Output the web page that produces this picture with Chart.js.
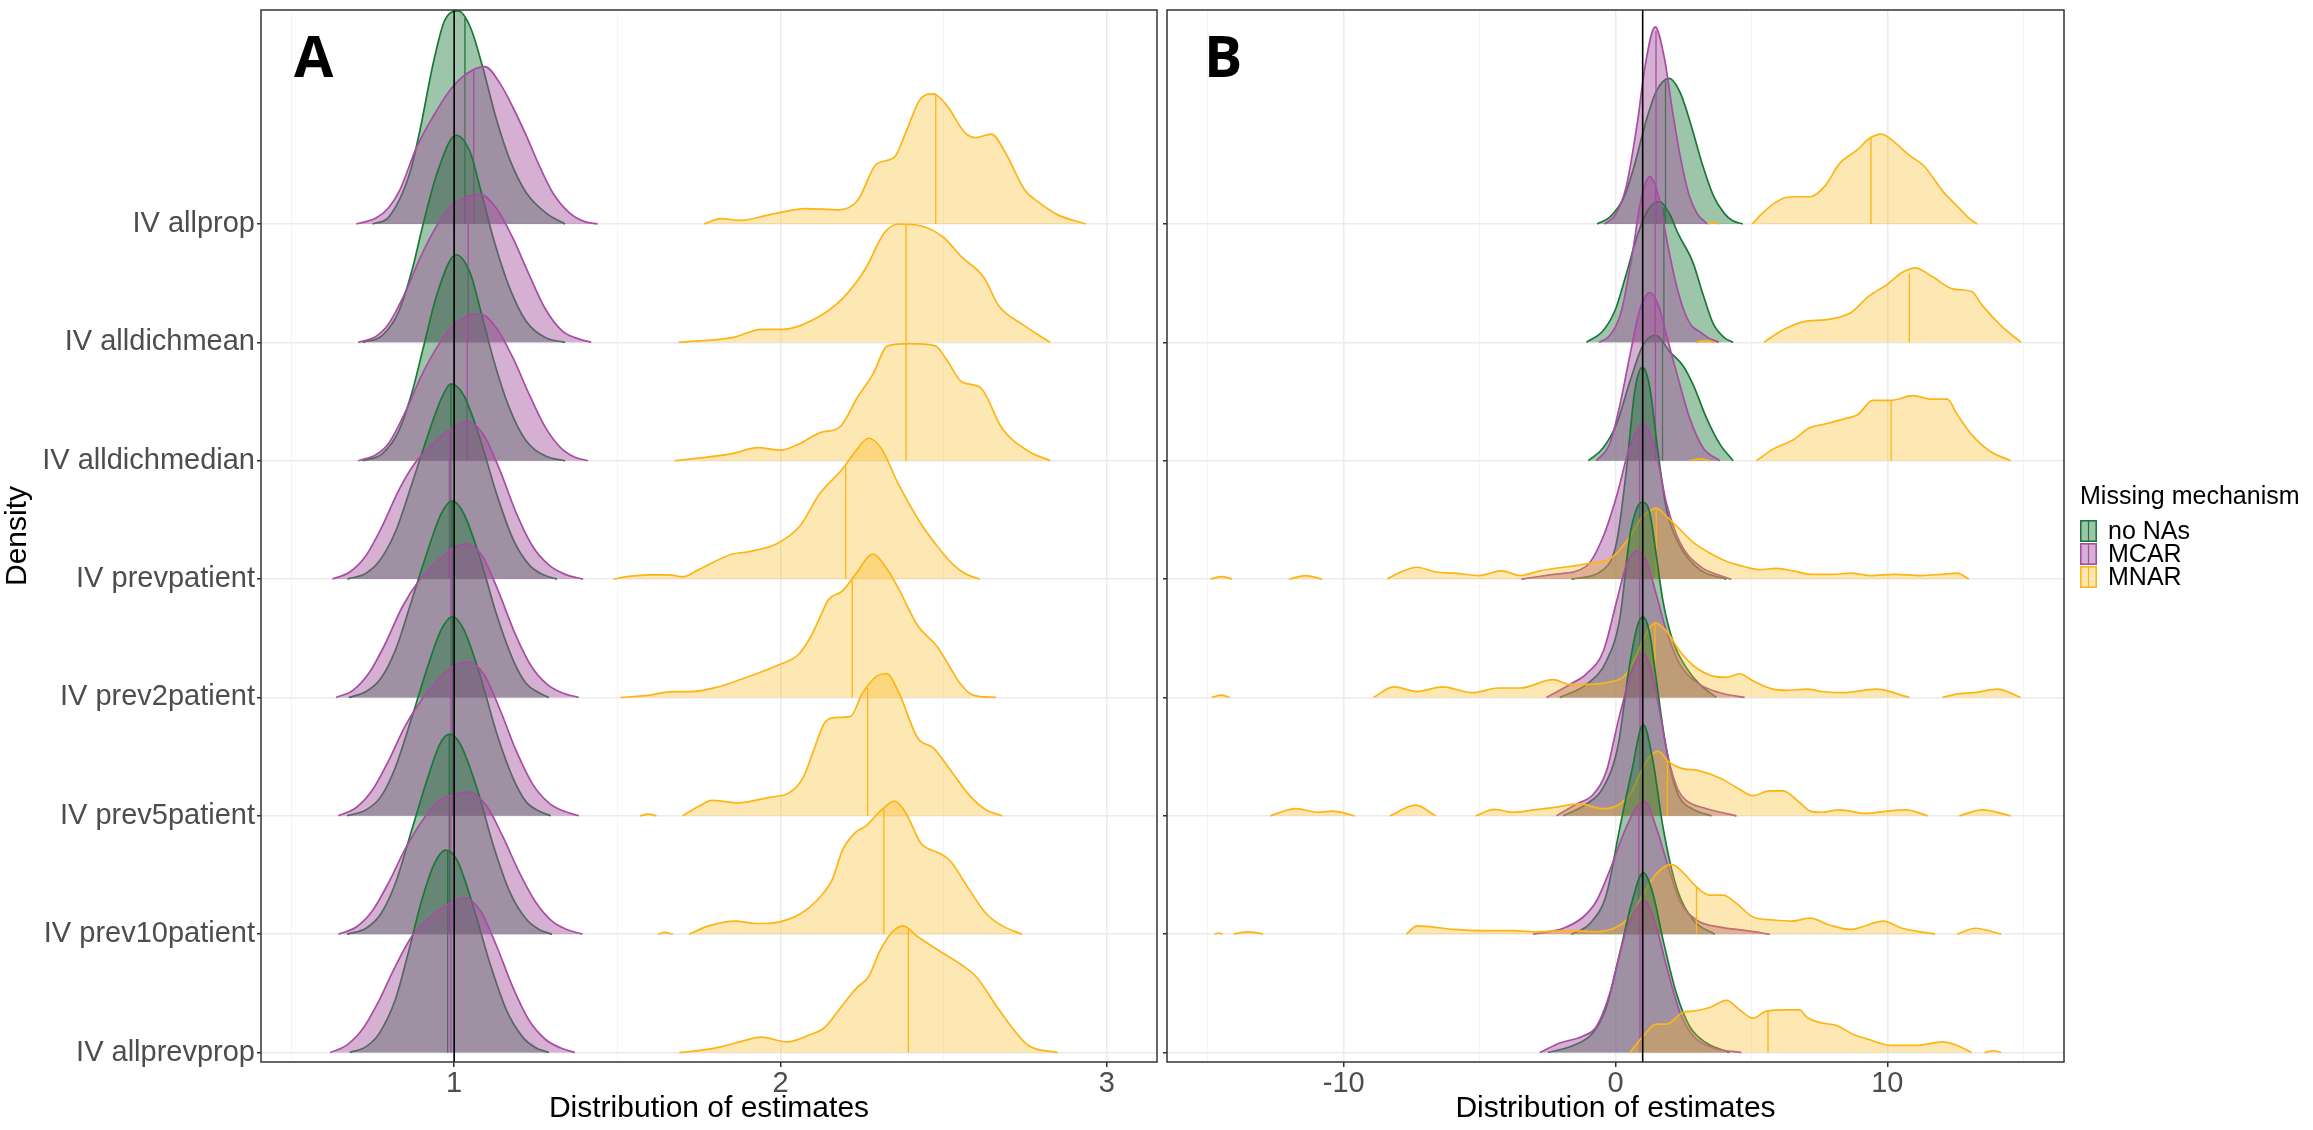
<!DOCTYPE html>
<html>
<head>
<meta charset="utf-8">
<script src="https://cdn.jsdelivr.net/npm/chart.js@4.4.1/dist/chart.umd.min.js"></script>
<style>
html, body { margin: 0; padding: 0; background: #fff; }
#wrapA { position: absolute; left: 0; top: 0; width: 1160px; height: 1130px; }
#wrapB { position: absolute; left: 1160px; top: 0; width: 1153px; height: 1130px; }
</style>
</head>
<body>
<div id="wrapA"><canvas id="chartA"></canvas></div>
<div id="wrapB"><canvas id="chartB"></canvas></div>
<script>
// rows, top to bottom
const methods = ['IV allprop', 'IV alldichmean', 'IV alldichmedian', 'IV prevpatient',
                 'IV prev2patient', 'IV prev5patient', 'IV prev10patient', 'IV allprevprop'];
const mechanisms = ['no NAs', 'MCAR', 'MNAR'];
const legendTitle = 'Missing mechanism';
const xTitle = 'Distribution of estimates';
const yTitle = 'Density';
const trueValue = 1;

const xTicksA = [0.5, 1, 1.5, 2, 2.5, 3];
const xLabelsA = ['', '1', '', '2', '', '3'];
const xTicksB = [-15, -10, -5, 0, 5, 10, 15];
const xLabelsB = ['', '-10', '', '0', '', '10', ''];

// density curves: [estimate, height above the row baseline]
// a null height breaks the curve
const estA_noNA = [
  [[0.75,0],[0.80,0.06],[0.864,0.43],[0.895,0.79],[0.936,1.36],[0.971,1.72],[1.012,1.80],[1.05,1.66],[1.084,1.36],[1.13,0.88],[1.171,0.54],[1.222,0.26],[1.283,0.09],[1.34,0]],
  [[0.72,0],[0.78,0.06],[0.83,0.26],[0.87,0.60],[0.905,1.0],[0.95,1.45],[1.006,1.75],[1.05,1.60],[1.08,1.30],[1.12,0.88],[1.17,0.46],[1.22,0.18],[1.28,0.04],[1.34,0]],
  [[0.72,0],[0.78,0.06],[0.83,0.25],[0.87,0.57],[0.905,0.95],[0.95,1.43],[1.006,1.74],[1.05,1.58],[1.08,1.28],[1.12,0.86],[1.17,0.44],[1.22,0.17],[1.28,0.04],[1.34,0]],
  [[0.673,0],[0.73,0.05],[0.77,0.15],[0.82,0.40],[0.87,0.80],[0.92,1.22],[0.96,1.52],[0.99,1.65],[1.03,1.55],[1.08,1.18],[1.13,0.72],[1.18,0.34],[1.23,0.12],[1.27,0.04],[1.315,0]],
  [[0.677,0],[0.73,0.05],[0.775,0.16],[0.82,0.40],[0.87,0.82],[0.92,1.25],[0.96,1.55],[0.994,1.66],[1.03,1.55],[1.08,1.17],[1.13,0.70],[1.18,0.32],[1.22,0.12],[1.26,0.04],[1.29,0]],
  [[0.672,0],[0.73,0.05],[0.775,0.16],[0.82,0.41],[0.87,0.83],[0.92,1.27],[0.96,1.57],[0.995,1.68],[1.03,1.57],[1.08,1.18],[1.13,0.70],[1.18,0.32],[1.22,0.12],[1.26,0.04],[1.296,0]],
  [[0.672,0],[0.73,0.05],[0.775,0.17],[0.82,0.43],[0.87,0.88],[0.92,1.33],[0.955,1.60],[0.985,1.69],[1.02,1.60],[1.07,1.23],[1.12,0.75],[1.17,0.36],[1.22,0.13],[1.26,0.04],[1.30,0]],
  [[0.68,0],[0.73,0.05],[0.77,0.16],[0.82,0.45],[0.86,0.85],[0.90,1.28],[0.94,1.60],[0.974,1.71],[1.01,1.62],[1.06,1.22],[1.11,0.75],[1.16,0.36],[1.21,0.13],[1.25,0.04],[1.29,0]]
];
const estA_MCAR = [
  [[0.70,0],[0.76,0.05],[0.80,0.14],[0.834,0.29],[0.885,0.65],[0.936,0.91],[0.987,1.13],[1.038,1.27],[1.094,1.33],[1.14,1.19],[1.181,0.98],[1.222,0.74],[1.263,0.48],[1.303,0.26],[1.355,0.09],[1.40,0.02],[1.44,0]],
  [[0.706,0],[0.76,0.05],[0.80,0.16],[0.85,0.42],[0.90,0.74],[0.95,1.0],[0.99,1.15],[1.04,1.23],[1.08,1.25],[1.13,1.13],[1.18,0.88],[1.23,0.57],[1.28,0.28],[1.33,0.10],[1.37,0.04],[1.42,0]],
  [[0.706,0],[0.76,0.05],[0.80,0.15],[0.85,0.41],[0.90,0.72],[0.95,0.97],[0.99,1.12],[1.04,1.22],[1.08,1.24],[1.13,1.12],[1.18,0.87],[1.23,0.56],[1.28,0.28],[1.33,0.10],[1.37,0.03],[1.41,0]],
  [[0.627,0],[0.68,0.06],[0.73,0.20],[0.78,0.45],[0.83,0.75],[0.88,0.98],[0.93,1.13],[0.98,1.25],[1.04,1.33],[1.09,1.22],[1.14,0.92],[1.19,0.56],[1.24,0.28],[1.29,0.12],[1.34,0.04],[1.395,0]],
  [[0.638,0],[0.69,0.06],[0.74,0.21],[0.79,0.46],[0.84,0.76],[0.89,0.98],[0.94,1.13],[0.985,1.24],[1.035,1.30],[1.085,1.20],[1.135,0.90],[1.185,0.55],[1.235,0.27],[1.285,0.11],[1.33,0.04],[1.382,0]],
  [[0.645,0],[0.70,0.07],[0.75,0.22],[0.80,0.47],[0.85,0.76],[0.90,0.98],[0.945,1.13],[0.99,1.25],[1.04,1.30],[1.09,1.20],[1.14,0.90],[1.19,0.55],[1.24,0.27],[1.29,0.11],[1.335,0.04],[1.382,0]],
  [[0.645,0],[0.70,0.06],[0.75,0.20],[0.80,0.44],[0.85,0.72],[0.90,0.95],[0.95,1.12],[0.99,1.17],[1.046,1.20],[1.10,1.08],[1.15,0.82],[1.20,0.52],[1.25,0.27],[1.30,0.11],[1.345,0.04],[1.393,0]],
  [[0.62,0],[0.67,0.06],[0.72,0.20],[0.77,0.44],[0.82,0.73],[0.87,0.98],[0.92,1.13],[0.975,1.24],[1.03,1.31],[1.08,1.20],[1.13,0.90],[1.18,0.55],[1.23,0.27],[1.28,0.11],[1.325,0.04],[1.37,0]]
];
const estA_MNAR = [
  [[1.766,0],[1.818,0.046],[1.875,0.03],[1.965,0.077],[2.078,0.13],[2.18,0.12],[2.237,0.2],[2.294,0.506],[2.35,0.567],[2.385,0.78],[2.43,1.06],[2.469,1.10],[2.51,1.0],[2.566,0.77],[2.60,0.73],[2.646,0.76],[2.69,0.6],[2.748,0.29],[2.793,0.18],[2.85,0.077],[2.936,0]],
  [[1.688,0],[1.852,0.04],[1.943,0.11],[2.01,0.11],[2.10,0.19],[2.19,0.37],[2.26,0.62],[2.317,0.92],[2.362,1.0],[2.43,0.985],[2.498,0.89],[2.556,0.72],[2.623,0.55],[2.669,0.31],[2.737,0.16],[2.827,0]],
  [[1.675,0],[1.852,0.06],[1.931,0.11],[1.999,0.09],[2.056,0.14],[2.124,0.24],[2.18,0.28],[2.237,0.54],[2.283,0.73],[2.328,0.97],[2.396,0.99],[2.475,0.97],[2.51,0.85],[2.556,0.665],[2.612,0.62],[2.68,0.27],[2.76,0.08],[2.827,0]],
  [[1.489,0],[1.53,0.02],[1.60,0.036],[1.66,0.035],[1.70,0.02],[1.75,0.08],[1.85,0.21],[1.90,0.23],[1.99,0.30],[2.06,0.45],[2.12,0.72],[2.19,0.93],[2.23,1.08],[2.27,1.19],[2.31,1.10],[2.36,0.81],[2.43,0.47],[2.48,0.28],[2.53,0.12],[2.57,0.04],[2.61,0]],
  [[1.51,0],[1.60,0.02],[1.67,0.05],[1.73,0.05],[1.81,0.09],[1.875,0.15],[1.99,0.27],[2.056,0.365],[2.09,0.5],[2.12,0.67],[2.147,0.825],[2.19,0.9],[2.23,1.04],[2.283,1.21],[2.33,1.07],[2.36,0.93],[2.42,0.61],[2.48,0.43],[2.51,0.30],[2.55,0.12],[2.59,0.02],[2.66,0]],
  [[1.57,0],[1.595,0.015],[1.62,0],[1.66,null],[1.70,0],[1.75,0.08],[1.79,0.13],[1.87,0.11],[1.965,0.156],[2.03,0.2],[2.07,0.325],[2.10,0.54],[2.135,0.785],[2.17,0.83],[2.215,0.84],[2.25,1.03],[2.295,1.18],[2.325,1.2],[2.36,1.06],[2.42,0.66],[2.47,0.57],[2.52,0.39],[2.58,0.17],[2.63,0.05],[2.68,0]],
  [[1.625,0],[1.645,0.015],[1.67,0],[1.695,null],[1.72,0],[1.78,0.07],[1.86,0.11],[1.93,0.09],[1.99,0.10],[2.06,0.17],[2.11,0.28],[2.16,0.47],[2.19,0.71],[2.23,0.86],[2.26,0.91],[2.31,1.05],[2.35,1.125],[2.385,1.02],[2.43,0.77],[2.49,0.68],[2.52,0.62],[2.58,0.37],[2.63,0.175],[2.68,0.07],[2.74,0]],
  [[1.69,0],[1.76,0.02],[1.82,0.05],[1.875,0.09],[1.94,0.13],[2.02,0.09],[2.09,0.15],[2.135,0.21],[2.19,0.40],[2.235,0.55],[2.27,0.64],[2.305,0.86],[2.34,1.01],[2.375,1.07],[2.42,0.98],[2.486,0.86],[2.55,0.75],[2.60,0.64],[2.66,0.40],[2.71,0.21],[2.76,0.06],[2.85,0]]
];
// medians: [estimate, height]
const medA_noNA = [[1.033,1.74],[1.0,1.72],[1.0,1.71],[0.99,1.65],[0.994,1.66],[0.995,1.68],[0.985,1.69],[0.98,1.71]];
const medA_MCAR = [[1.06,1.30],[1.043,1.23],[1.04,1.22],[0.985,1.24],[0.99,1.25],[0.99,1.25],[0.99,1.17],[0.99,1.25]];
const medA_MNAR = [[2.476,1.09],[2.385,1.0],[2.385,0.99],[2.2,0.95],[2.22,0.99],[2.267,1.08],[2.317,1.06],[2.392,1.04]];

const estB_noNA = [
  [[-0.68,0],[-0.2,0.06],[0.3,0.22],[0.7,0.50],[1.1,0.85],[1.5,1.12],[1.97,1.23],[2.4,1.10],[2.8,0.82],[3.2,0.50],[3.6,0.24],[4.0,0.09],[4.3,0.03],[4.68,0]],
  [[-1.07,0],[-0.45,0.1],[0.0,0.28],[0.4,0.58],[0.8,0.90],[1.2,1.12],[1.62,1.19],[2.0,1.08],[2.3,0.92],[2.84,0.68],[3.2,0.42],[3.59,0.16],[4.0,0.04],[4.33,0]],
  [[-1.0,0],[-0.45,0.11],[0.04,0.31],[0.53,0.67],[1.02,0.98],[1.48,1.06],[2.0,0.92],[2.49,0.80],[2.86,0.64],[3.35,0.36],[3.84,0.14],[4.33,0]],
  [[-1.62,0],[-0.45,0.08],[0.04,0.31],[0.4,0.92],[0.71,1.59],[0.99,1.79],[1.26,1.62],[1.57,1.06],[1.875,0.59],[2.37,0.28],[3.1,0.08],[4.08,0]],
  [[-2.05,0],[-1.07,0.11],[-0.33,0.31],[0.16,0.67],[0.53,1.37],[0.77,1.59],[0.99,1.65],[1.26,1.56],[1.5,1.2],[1.75,0.81],[2.12,0.47],[2.61,0.25],[3.1,0.11],[3.71,0]],
  [[-1.92,0],[-1.07,0.1],[-0.45,0.24],[0.1,0.6],[0.5,1.25],[0.8,1.6],[1.0,1.68],[1.25,1.55],[1.5,1.15],[1.8,0.66],[2.1,0.32],[2.37,0.15],[2.9,0.05],[3.53,0]],
  [[-1.62,0],[-0.94,0.09],[-0.33,0.34],[0.16,0.9],[0.59,1.37],[1.02,1.77],[1.38,1.46],[1.75,0.9],[2.24,0.4],[2.86,0.12],[3.65,0]],
  [[-2.48,0],[-1.56,0.06],[-0.82,0.17],[-0.33,0.39],[0.16,0.84],[0.59,1.26],[1.02,1.52],[1.38,1.34],[1.75,0.95],[2.24,0.5],[2.73,0.22],[3.35,0.08],[4.2,0]]
];
const estB_MCAR = [
  [[-0.4,0],[0.0,0.08],[0.4,0.32],[0.8,0.85],[1.1,1.35],[1.46,1.666],[1.8,1.40],[2.1,0.95],[2.4,0.55],[2.7,0.25],[3.0,0.09],[3.38,0]],
  [[-0.6,0],[-0.2,0.06],[0.2,0.25],[0.6,0.72],[0.95,1.22],[1.27,1.40],[1.6,1.22],[1.9,0.85],[2.2,0.52],[2.5,0.28],[2.8,0.14],[3.1,0.09],[3.4,0.04],[3.8,0]],
  [[-0.7,0],[-0.2,0.15],[0.16,0.47],[0.53,0.89],[0.9,1.28],[1.27,1.42],[1.6,1.30],[1.875,1.06],[2.24,0.75],[2.73,0.36],[3.22,0.11],[3.84,0]],
  [[-3.46,0],[-2.29,0.04],[-1.07,0.11],[-0.45,0.36],[0.04,0.70],[0.53,1.12],[1.02,1.31],[1.5,1.06],[1.875,0.64],[2.37,0.31],[3.1,0.11],[3.84,0.03],[4.26,0]],
  [[-2.54,0],[-1.68,0.11],[-1.07,0.2],[-0.45,0.39],[0.04,0.81],[0.4,1.12],[0.8,1.24],[1.14,1.15],[1.5,0.87],[1.875,0.56],[2.37,0.28],[3.1,0.11],[3.84,0.04],[4.75,0]],
  [[-2.17,0],[-1.43,0.1],[-0.82,0.18],[-0.33,0.38],[0.1,0.80],[0.6,1.22],[1.0,1.37],[1.35,1.2],[1.65,0.85],[1.95,0.48],[2.3,0.22],[2.6,0.13],[3.35,0.06],[4.45,0]],
  [[-3.03,0],[-1.92,0.05],[-1.19,0.145],[-0.7,0.28],[-0.21,0.54],[0.28,0.84],[0.77,1.07],[1.08,1.12],[1.5,0.9],[1.875,0.62],[2.37,0.28],[2.98,0.12],[3.84,0.06],[4.82,0.03],[5.67,0]],
  [[-2.78,0],[-2.05,0.08],[-1.19,0.14],[-0.7,0.22],[-0.21,0.5],[0.16,0.84],[0.53,1.12],[1.08,1.28],[1.5,1.06],[1.875,0.73],[2.37,0.34],[2.86,0.14],[3.59,0.04],[4.63,0]]
];
const estB_MNAR = [
  [[3.4,0],[3.6,0.015],[3.8,0],[4.4,null],[5.03,0],[5.4,0.09],[5.81,0.17],[6.2,0.22],[6.62,0.23],[7.16,0.23],[7.7,0.32],[8.24,0.51],[8.92,0.63],[9.32,0.72],[9.78,0.76],[10.27,0.69],[10.81,0.58],[11.35,0.49],[12.03,0.28],[12.7,0.12],[13.0,0.05],[13.3,0]],
  [[2.97,0],[3.3,0.015],[3.65,0],[4.5,null],[5.46,0],[6.2,0.11],[7.03,0.18],[7.7,0.19],[8.65,0.25],[9.32,0.39],[10.0,0.49],[10.54,0.59],[11.03,0.63],[11.62,0.56],[12.43,0.45],[13.1,0.43],[13.5,0.31],[14.19,0.14],[14.92,0]],
  [[2.73,0],[3.1,0.015],[3.47,0],[4.3,null],[5.19,0],[5.81,0.1],[6.49,0.17],[7.16,0.28],[7.7,0.31],[8.51,0.36],[8.92,0.39],[9.46,0.51],[10.14,0.51],[10.95,0.55],[11.62,0.52],[12.2,0.52],[12.57,0.39],[13.1,0.22],[13.78,0.08],[14.54,0]],
  [[-14.9,0],[-14.5,0.02],[-14.1,0],[-13.0,null],[-12.0,0],[-11.4,0.03],[-10.8,0],[-9.6,null],[-8.4,0],[-7.9,0.06],[-7.3,0.1],[-6.6,0.06],[-5.9,0.05],[-5.0,0.03],[-4.2,0.07],[-3.5,0.03],[-2.78,0.07],[-1.92,0.1],[-1.56,0.11],[-0.82,0.14],[-0.21,0.17],[0.16,0.25],[0.53,0.36],[0.89,0.5],[1.2,0.57],[1.5,0.60],[1.875,0.53],[2.37,0.42],[2.86,0.31],[3.47,0.22],[4.08,0.15],[4.82,0.1],[5.3,0.08],[5.92,0.09],[6.53,0.07],[7.2,0.04],[8.0,0.04],[8.65,0.05],[9.4,0.03],[10.27,0.04],[11.2,0.03],[12.0,0.04],[12.57,0.05],[13.0,0]],
  [[-14.86,0],[-14.5,0.02],[-14.2,0],[-11.5,null],[-8.9,0],[-8.16,0.09],[-7.3,0.05],[-6.35,0.09],[-5.27,0.04],[-4.3,0.08],[-3.5,0.08],[-2.3,0.15],[-1.68,0.11],[-1.07,0.11],[-0.33,0.125],[0.4,0.2],[0.89,0.42],[1.2,0.57],[1.45,0.63],[1.875,0.56],[2.37,0.39],[2.86,0.27],[3.59,0.18],[4.08,0.17],[4.57,0.2],[5.06,0.14],[5.8,0.07],[6.29,0.06],[7.03,0.07],[7.6,0.05],[8.38,0.04],[9.6,0.07],[10.81,0],[11.4,null],[12.03,0],[12.6,0.03],[13.2,0.04],[14.05,0.07],[14.9,0]],
  [[-12.7,0],[-11.76,0.06],[-10.95,0.03],[-10.4,0.04],[-9.6,0],[-8.9,null],[-8.3,0],[-7.35,0.09],[-6.62,0],[-5.9,null],[-5.14,0],[-4.46,0.055],[-3.8,0.03],[-3.0,0.05],[-2.3,0.07],[-1.31,0.1],[-0.45,0.06],[0.16,0.1],[0.53,0.18],[0.89,0.35],[1.26,0.5],[1.57,0.545],[1.94,0.46],[2.37,0.405],[3.1,0.38],[3.84,0.32],[4.45,0.24],[5.06,0.17],[5.67,0.21],[6.16,0.21],[6.78,0.11],[7.16,0.04],[7.57,0.03],[8.24,0.05],[9.19,0.02],[10.0,0.04],[10.68,0.05],[11.49,0],[12.1,null],[12.65,0],[13.5,0.05],[14.54,0]],
  [[-14.75,0],[-14.6,0.01],[-14.45,0],[-14.25,null],[-14.05,0],[-13.5,0.02],[-12.97,0],[-10.3,null],[-7.7,0],[-7.3,0.07],[-5.95,0.04],[-4.86,0.03],[-3.78,0.03],[-2.97,0.02],[-1.62,0.03],[-0.7,0.02],[0.04,0.06],[0.53,0.15],[1.02,0.34],[1.5,0.51],[2.06,0.59],[2.49,0.52],[2.98,0.40],[3.47,0.33],[3.96,0.33],[4.45,0.26],[5.06,0.145],[5.8,0.12],[6.49,0.11],[7.16,0.135],[7.84,0.08],[8.65,0.04],[9.86,0.11],[10.54,0.05],[11.76,0],[12.2,null],[12.57,0],[13.24,0.05],[14.19,0]],
  [[0.53,0],[1.02,0.14],[1.5,0.24],[1.875,0.24],[2.49,0.34],[2.86,0.35],[3.47,0.38],[4.08,0.44],[4.57,0.36],[5.06,0.29],[5.55,0.35],[6.29,0.36],[6.78,0.36],[7.03,0.30],[7.57,0.25],[8.11,0.23],[8.78,0.15],[9.32,0.11],[10.14,0.06],[11.08,0.06],[12.03,0.09],[12.57,0.06],[13.1,0],[13.3,null],[13.57,0],[13.9,0.015],[14.19,0]]
];
const medB_noNA = [[1.84,1.21],[1.78,1.14],[1.73,1.0],[1.0,1.79],[1.0,1.65],[1.0,1.68],[1.0,1.77],[1.0,1.52]];
const medB_MCAR = [[1.49,1.63],[1.46,1.30],[1.47,1.35],[0.89,1.26],[0.89,1.22],[0.9,1.33],[0.86,1.08],[0.9,1.23]];
const medB_MNAR = [[9.4,0.73],[10.81,0.58],[10.14,0.51],[1.5,0.60],[1.45,0.63],[1.91,0.46],[2.98,0.40],[5.61,0.35]];

const FONT = '"Liberation Sans", Arial, sans-serif';
Chart.defaults.font.family = FONT;
Chart.defaults.animation = false;

const lineColors = ['#1B7837', '#A84DA4', '#FDB515'];
const fillColors = ['rgba(27,120,55,0.43)', 'rgba(165,80,158,0.45)', 'rgba(250,180,20,0.32)'];
const yMin = 0.92, yMax = 9.808;

function ridgeDatasets(curveSets, medianSets) {
  const sets = [];
  const n = methods.length;
  curveSets.forEach((curves, m) => {
    curves.forEach((curve, i) => {
      const base = n - i;
      const rank = base * 10 + (2 - m) * 2; // lower rows drawn on top
      sets.push({
        data: curve.map(p => ({ x: p[0], y: p[1] === null ? null : base + p[1] })),
        borderColor: lineColors[m],
        backgroundColor: fillColors[m],
        borderWidth: 1.7,
        fill: { value: base },
        cubicInterpolationMode: 'monotone',
        order: rank + 1
      });
      const md = medianSets[m][i];
      sets.push({
        data: [{ x: md[0], y: base }, { x: md[0], y: base + md[1] }],
        borderColor: lineColors[m],
        borderWidth: 1.3,
        fill: false,
        order: rank
      });
    });
  });
  sets.push({
    data: [{ x: trueValue, y: yMin }, { x: trueValue, y: yMax }],
    borderColor: '#000', borderWidth: 1.6, fill: false, order: 0
  });
  return sets;
}

function xScale(min, max, ticks, labels) {
  return {
    type: 'linear', min: min, max: max,
    afterBuildTicks: s => { s.ticks = ticks.map(v => ({ value: v })); },
    ticks: {
      autoSkip: false, maxRotation: 0, minRotation: 0, padding: 0,
      color: '#4D4D4D', font: { size: 29 },
      callback: (v, i) => labels[i]
    },
    grid: {
      color: c => labels[c.index] ? '#EBEBEB' : '#F4F4F4',
      lineWidth: c => labels[c.index] ? 1.5 : 1,
      tickColor: c => labels[c.index] ? '#333333' : 'rgba(0,0,0,0)',
      tickLength: 5
    },
    border: { display: false },
    title: { display: true, text: xTitle, color: '#000', font: { size: 30 }, padding: { top: 0, bottom: 3 } },
    afterFit: s => { s.height = 68; s.paddingLeft = 0; s.paddingRight = 0; }
  };
}

function yScale(showLabels, width) {
  return {
    type: 'linear', min: yMin, max: yMax,
    afterBuildTicks: s => { s.ticks = methods.map((m, i) => ({ value: methods.length - i })); },
    ticks: {
      autoSkip: false, padding: 2, color: '#4D4D4D', font: { size: 29 },
      callback: v => showLabels ? methods[methods.length - v] : ''
    },
    grid: { color: '#EBEBEB', lineWidth: 1.5, tickColor: '#333333', tickLength: 4 },
    border: { display: false },
    title: { display: showLabels, text: yTitle, color: '#000', font: { size: 30 }, padding: { top: 0, bottom: 0 } },
    afterFit: s => { s.width = width; s.paddingTop = 0; s.paddingBottom = 0; }
  };
}

const panelDecor = {
  id: 'panelDecor',
  afterDraw(chart, args, opts) {
    const { ctx, chartArea: a } = chart;
    ctx.save();
    ctx.strokeStyle = '#333333';
    ctx.lineWidth = 1.5;
    ctx.strokeRect(a.left, a.top, a.right - a.left, a.bottom - a.top);
    ctx.fillStyle = '#000';
    ctx.font = '700 57px "Open Sans", sans-serif';
    ctx.textBaseline = 'alphabetic';
    ctx.textAlign = 'left';
    ctx.fillText(opts.label, opts.labelX, 77);
    if (opts.legendX) {
      const x = opts.legendX, y = 497;
      ctx.font = '25px ' + FONT;
      ctx.textBaseline = 'middle';
      ctx.fillText(legendTitle, x, y);
      mechanisms.forEach((name, m) => {
        const top = y + 23 + m * 23;
        ctx.fillStyle = fillColors[m];
        ctx.fillRect(x, top, 17, 22);
        ctx.strokeStyle = lineColors[m];
        ctx.lineWidth = 1.6;
        ctx.strokeRect(x + 0.8, top + 0.8, 15.4, 20.4);
        ctx.lineWidth = 1.2;
        ctx.beginPath();
        ctx.moveTo(x + 8.5, top + 1);
        ctx.lineTo(x + 8.5, top + 21);
        ctx.stroke();
        ctx.fillStyle = '#000';
        ctx.fillText(name, x + 28, top + 12);
      });
    }
    ctx.restore();
  }
};

function makeChart(id, datasets, x, y, padding, decor) {
  return new Chart(document.getElementById(id), {
    type: 'line',
    data: { datasets: datasets },
    options: {
      responsive: true,
      maintainAspectRatio: false,
      events: [],
      layout: { padding: padding, autoPadding: false },
      elements: { point: { radius: 0 }, line: { tension: 0 } },
      scales: { x: x, y: y },
      plugins: { legend: { display: false }, tooltip: { enabled: false }, panelDecor: decor }
    },
    plugins: [panelDecor]
  });
}

makeChart('chartA',
  ridgeDatasets([estA_noNA, estA_MCAR, estA_MNAR], [medA_noNA, medA_MCAR, medA_MNAR]),
  xScale(0.408, 3.154, xTicksA, xLabelsA),
  yScale(true, 261),
  { left: 0, top: 10, right: 3, bottom: 0 },
  { label: 'A', labelX: 294 });

makeChart('chartB',
  ridgeDatasets([estB_noNA, estB_MCAR, estB_MNAR], [medB_noNA, medB_MCAR, medB_MNAR]),
  xScale(-16.5, 16.5, xTicksB, xLabelsB),
  yScale(false, 7),
  { left: 0, top: 10, right: 249, bottom: 0 },
  { label: 'B', labelX: 44, legendX: 920 });
</script>
</body>
</html>
